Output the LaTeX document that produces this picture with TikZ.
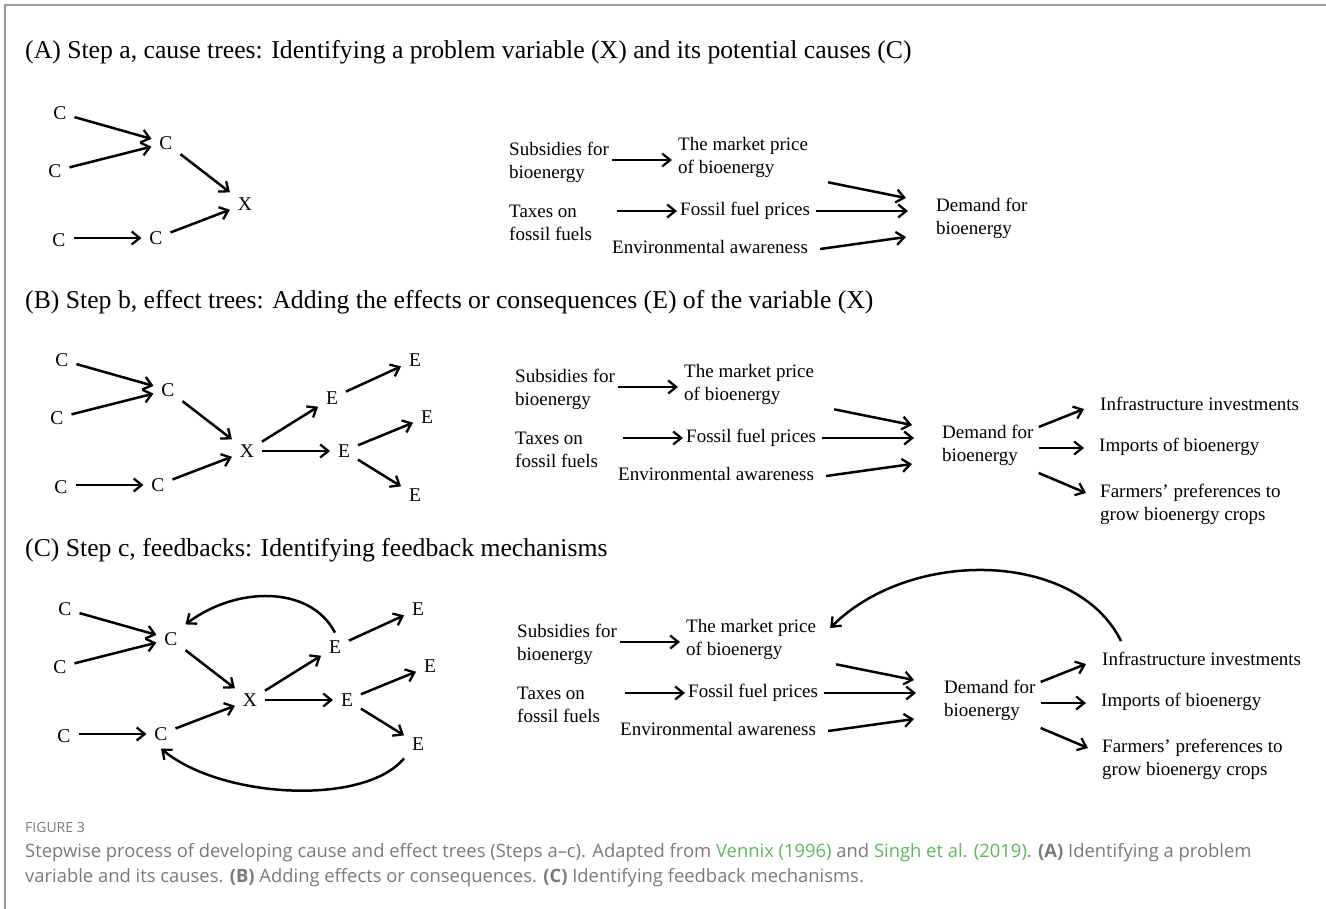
\documentclass[tikz,border=0pt]{standalone}
\usepackage{fontspec}
\setmainfont{Liberation Serif}
\newfontfamily\capfont{Open Sans}
\usetikzlibrary{arrows.meta,calc}
\definecolor{framegray}{HTML}{9A9A9A}
\definecolor{capgray}{HTML}{7A7A7A}
\definecolor{linkgreen}{HTML}{5DB85C}

\tikzset{
  arr/.style={line width=2.5pt,-{Straight Barb[length=8pt,width=13pt,line width=2.3pt]}},
  var/.style={font=\fontsize{19.5}{23}\selectfont,inner sep=0pt,outer sep=8pt},
  lbl/.style={font=\fontsize{19}{23}\selectfont,inner sep=0pt,align=left,anchor=west},
  paneltitle/.style={font=\fontsize{25.7}{30}\selectfont,inner sep=0pt,anchor=west},
  capfig/.style={font=\capfont\fontsize{14}{16}\selectfont,text=capgray,inner sep=0pt,anchor=west},
  capline/.style={font=\capfont\fontsize{18.4}{22}\selectfont,text=capgray,inner sep=0pt,anchor=west},
}

% generic cause tree: three causes feeding two intermediate causes and X
\newcommand\causetree[1]{%
  \node[var] (#1c1) at (60,113) {C};
  \node[var] (#1c2) at (55,171) {C};
  \node[var] (#1cm) at (166,143) {C};
  \node[var] (#1x)  at (245,204) {X};
  \node[var] (#1c3) at (59,240) {C};
  \node[var] (#1c4) at (156,238) {C};
  \draw[arr] (#1c1) -- (#1cm);
  \draw[arr] (#1c2) -- (#1cm);
  \draw[arr] (#1cm) -- (#1x);
  \draw[arr] (#1c3.east |- #1c4) -- (#1c4);
  \draw[arr] (#1c4) -- (#1x);
}
% effects of X
\newcommand\effecttree[1]{%
  \node[var] (#1e1) at (330,151) {E};
  \node[var] (#1e2) at (342,204) {E};
  \node[var] (#1e3) at (413,113) {E};
  \node[var] (#1e4) at (425,170) {E};
  \node[var] (#1e5) at (413,248) {E};
  \draw[arr] (#1x) -- (#1e1);
  \draw[arr] (#1x) -- (#1e2);
  \draw[arr] (#1e1) -- (#1e3);
  \draw[arr] (#1e2) -- (#1e4);
  \draw[arr] (#1e2) -- (#1e5);
}
% bioenergy example: causes of demand
\newcommand\demandtree[1]{%
  \node[lbl] (#1sub) at (509,162) {Subsidies for\\bioenergy};
  \node[lbl] (#1mp)  at (678,157) {The market price\\of bioenergy};
  \node[lbl] (#1tax) at (509,223) {Taxes on\\fossil fuels};
  \node[lbl] (#1ffp) at (680,211) {Fossil fuel prices};
  \node[lbl] (#1env) at (612,247) {Environmental awareness};
  \node[lbl] (#1dem) at (936,218) {Demand for\\bioenergy};
  \draw[arr] ($(#1sub.east)+(3,-2)$) -- ($(#1mp.west)+(-6,3)$);
  \draw[arr] ($(#1tax.east)+(25,-12)$) -- ($(#1ffp.west)+(-3,0)$);
  \draw[arr] ($(#1ffp.east)+(6,0)$) -- ($(#1dem.west)+(-28,-7)$);
  \draw[arr] ($(#1env.east)+(12,2)$) -- ($(#1dem.west)+(-30,19)$);
  \draw[arr] ($(#1mp.south east)+(20,5)$) -- ($(#1dem.west)+(-30,-20)$);
}
% bioenergy example: effects of demand
\newcommand\demandeffects[1]{%
  \node[lbl] (#1inf) at (1094,177) {Infrastructure investments};
  \node[lbl] (#1imp) at (1093,220) {Imports of bioenergy};
  \node[lbl] (#1far) at (1094,277) {Farmers’ preferences to\\grow bioenergy crops};
  \draw[arr] ($(#1dem.east)+(5,-18)$) -- ($(#1inf.west)+(-16,5)$);
  \draw[arr] ($(#1dem.east)+(5,3)$) -- ($(#1imp.west)+(-15,1)$);
  \draw[arr] ($(#1dem.east)+(5,28)$) -- ($(#1far.west)+(-14,-11)$);
}

\begin{document}
\begin{tikzpicture}[x=1pt,y=-1pt]
\useasboundingbox (0,0) rectangle (1326,909);
\fill[white] (0,0) rectangle (1326,909);
\draw[framegray,line width=2pt] (5,909) -- (5,5) -- (1326,5);

% panel A
\node[paneltitle] (ta) at (25,52) {(A) Step a, cause trees: Identifying a problem variable (X) and its potential causes (C)};
\causetree{a}
\demandtree{a}

% panel B
\node[paneltitle] (tb) at (25,302) {(B) Step b, effect trees: Adding the effects or consequences (E) of the variable (X)};
\begin{scope}[shift={(2,247)}]
  \causetree{b}
  \effecttree{b}
\end{scope}
\begin{scope}[shift={(6,227)}]
  \demandtree{b}
  \demandeffects{b}
\end{scope}

% panel C
\node[paneltitle] (tc) at (25,550) {(C) Step c, feedbacks: Identifying feedback mechanisms};
\begin{scope}[shift={(5,496)}]
  \causetree{c}
  \effecttree{c}
  \draw[arr] (ce1.north) .. controls +(-25,-48) and +(50,-38) .. (ccm.north east);
  \draw[arr] (ce5.south west) .. controls +(-40,48) and +(60,50) .. (cc4.south);
\end{scope}
\begin{scope}[shift={(8,482)}]
  \demandtree{c}
  \demandeffects{c}
  \draw[arr] ($(cinf.north west)+(19,-11)$) .. controls +(-45,-91) and +(80,-80) .. ($(cmp.east)+(14,-11)$);
\end{scope}

% caption
\node[capfig] (fig) at (25,827) {FIGURE 3};
\node[capline] (cap1) at (25,853) {Stepwise process of developing cause and effect trees (Steps a–c). Adapted from \textcolor{linkgreen}{Vennix (1996)} and \textcolor{linkgreen}{Singh et al. (2019)}. \textbf{(A)} Identifying a problem};
\node[capline] (cap2) at (25,878) {variable and its causes. \textbf{(B)} Adding effects or consequences. \textbf{(C)} Identifying feedback mechanisms.};
\end{tikzpicture}
\end{document}
